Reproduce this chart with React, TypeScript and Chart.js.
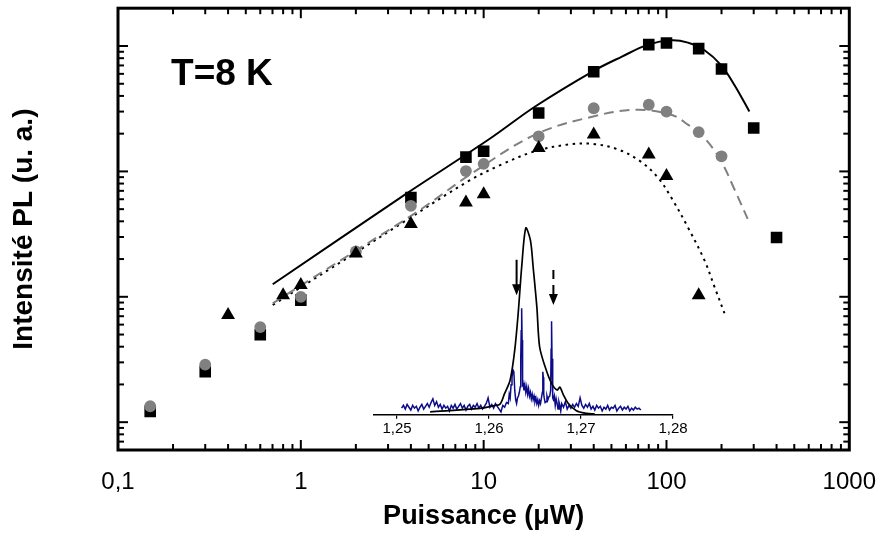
import React, { useEffect, useRef } from 'react';
import { Chart, registerables } from 'chart.js';

Chart.register(...registerables);

const FONT = "Arial, 'Liberation Sans', Helvetica, sans-serif";

// ---------- main chart data (x: Puissance µW, y: Intensité PL, arbitrary units) ----------
const X_DECADES = [0.1, 1, 10, 100, 1000];
const X_LABELS = ['0,1', '1', '10', '100', '1000'];
const Y_DECADES = [0.1, 1, 10, 100, 1000];
const X_MIN = 0.1;
const X_MAX = 1000;
const Y_MIN = 0.611;
const Y_MAX = 2003;

const SQ_X = [0.15, 0.3, 0.6, 1, 4, 8, 10, 20, 40, 80, 100, 150, 200, 300, 400];
const SQ_Y = [1.22, 2.53, 4.98, 9.4, 61.9, 130, 145, 292, 623, 1026, 1058, 953, 655, 222, 29.7];

const CI_X = [0.15, 0.3, 0.6, 1, 2, 4, 8, 10, 20, 40, 80, 100, 150, 200];
const CI_Y = [1.34, 2.88, 5.73, 10, 23.0, 53.2, 100.7, 115, 190.6, 319, 340, 300, 206, 132];

const TR_X = [0.4, 0.8, 1, 2, 4, 8, 10, 20, 40, 80, 100, 150];
const TR_Y = [7.16, 10.3, 12.4, 22.1, 38.1, 56.5, 65.8, 154, 196.7, 136.6, 92, 10.3];

const FIT_SOLID_X = [0.702, 3.745, 10.65, 19.13, 39.77, 56.7, 79.3, 106.2, 131, 161.5, 198.9, 235.3, 284];
const FIT_SOLID_Y = [12.6, 65.9, 179.6, 329.6, 631.8, 819.9, 1026, 1112, 1064, 926, 704.7, 489.4, 300.8];

const FIT_DASH_X = [0.702, 2.006, 4.42, 8.44, 19.13, 39.77, 68.2, 106.2, 131, 161.5, 198.9, 235.3, 278];
const FIT_DASH_Y = [8.87, 23.4, 48.6, 94.5, 196.7, 274.6, 310.2, 283.2, 236, 184.8, 120.9, 72.1, 41.8];

const FIT_DOT_X = [0.702, 2.006, 3.745, 8.28, 12.58, 19.13, 29.05, 39.77, 54.4, 71.7, 89.9, 106.2, 131, 161.5, 183.1, 207.6];
const FIT_DOT_Y = [8.6, 22.6, 40.5, 83.9, 113.8, 145, 163.9, 165.7, 149.6, 120.9, 89.2, 61.9, 35.8, 19.5, 12, 7.39];

const LABEL_TEXT = 'T=8 K';
const LABEL_X = 0.195;
const LABEL_Y = 490;

// ---------- inset spectrum data (x: energy eV, y: normalised intensity) ----------
const INSET_TICKS = [1.25, 1.26, 1.27, 1.28];
const INSET_X_MIN = 1.2475;
const INSET_X_MAX = 1.28;
const INSET_Y_MIN = 0;
const INSET_Y_MAX = 1.05;

const MACRO_E = [1.2536, 1.259, 1.2605, 1.2612, 1.2617, 1.2623, 1.2628, 1.2632, 1.26355, 1.264, 1.2645, 1.2648, 1.2652, 1.2655, 1.2661, 1.2668, 1.2674, 1.2677, 1.2681, 1.2686, 1.2695, 1.2706, 1.2715];
const MACRO_I = [0.015, 0.034, 0.048, 0.057, 0.114, 0.186, 0.347, 0.56, 0.79, 1.0, 0.935, 0.79, 0.578, 0.364, 0.257, 0.168, 0.132, 0.147, 0.105, 0.061, 0.021, 0.007, 0.003];

const MICRO_E = [
  1.2505, 1.2507, 1.2509, 1.2511, 1.2513, 1.2515, 1.2517, 1.2519, 1.2521, 1.2523, 1.2525, 1.2527, 1.2529, 1.2531, 1.2533,
  1.2535, 1.2537, 1.2539, 1.2541, 1.2543, 1.2545, 1.2547, 1.2549, 1.2551, 1.2553, 1.2555, 1.2557, 1.2559, 1.2561, 1.2563,
  1.2565, 1.2567, 1.2569, 1.2571, 1.2573, 1.2575, 1.2577, 1.2579, 1.2581, 1.2583, 1.2585, 1.2587, 1.2589, 1.2591, 1.2593,
  1.2595, 1.2597, 1.2599, 1.2601, 1.2603, 1.2605, 1.2607, 1.2609, 1.2611, 1.2613, 1.2615, 1.2617, 1.2619, 1.2621, 1.2622,
  1.2623, 1.2624, 1.2625, 1.2626, 1.2627, 1.2628, 1.2629, 1.263, 1.2631, 1.2632, 1.2633, 1.2634, 1.26345, 1.2635, 1.26355,
  1.2636, 1.26365, 1.2637, 1.2638, 1.2639, 1.264, 1.2641, 1.2642, 1.2643, 1.2644, 1.2645, 1.2646, 1.2647, 1.2648, 1.2649,
  1.265, 1.2651, 1.2652, 1.2653, 1.2654, 1.2655, 1.2656, 1.2657, 1.2658, 1.26585, 1.2659, 1.26595, 1.266, 1.2661, 1.2662,
  1.2663, 1.2664, 1.2665, 1.2666, 1.2667, 1.26675, 1.2668, 1.26685, 1.2669, 1.26695, 1.267, 1.2671, 1.2672, 1.2673, 1.2674,
  1.2675, 1.2676, 1.2677, 1.2678, 1.2679, 1.2681, 1.2683, 1.2685, 1.2687, 1.2689, 1.2691, 1.2693, 1.2695, 1.2697, 1.2699,
  1.2701, 1.2703, 1.2705, 1.2707, 1.2709, 1.2711, 1.2713, 1.2715, 1.2717, 1.2719, 1.2721, 1.2723, 1.2725, 1.2727, 1.2729,
  1.2731, 1.2733, 1.2735, 1.2737, 1.2739, 1.2741, 1.2743, 1.2745, 1.2747, 1.2749, 1.2751, 1.2753, 1.2755, 1.2757, 1.2759,
  1.2761, 1.2763, 1.2765,
];
const MICRO_I = [
  0.035, 0.05, 0.03, 0.055, 0.04, 0.025, 0.05, 0.035, 0.045, 0.02, 0.04, 0.055, 0.03, 0.045, 0.06,
  0.04, 0.065, 0.085, 0.05, 0.07, 0.04, 0.055, 0.03, 0.05, 0.035, 0.045, 0.02, 0.05, 0.035, 0.055,
  0.03, 0.045, 0.06, 0.035, 0.05, 0.025, 0.045, 0.055, 0.03, 0.05, 0.04, 0.06, 0.035, 0.05, 0.03,
  0.045, 0.06, 0.09, 0.04, 0.055, 0.035, 0.06, 0.045, 0.03, 0.015, 0.05, 0.04, 0.065, 0.06, 0.11,
  0.09, 0.16, 0.2, 0.24, 0.23, 0.13, 0.08, 0.06, 0.09, 0.1, 0.12, 0.15, 0.3, 0.45, 0.57,
  0.4, 0.15, 0.17, 0.13, 0.16, 0.12, 0.15, 0.11, 0.14, 0.1, 0.12, 0.085, 0.11, 0.08, 0.1,
  0.07, 0.09, 0.06, 0.08, 0.05, 0.075, 0.06, 0.09, 0.12, 0.23, 0.2, 0.11, 0.09, 0.065, 0.07,
  0.1, 0.08, 0.095, 0.1, 0.13, 0.35, 0.5, 0.3, 0.12, 0.09, 0.08, 0.1, 0.05, 0.085, 0.06,
  0.03, 0.07, 0.05, 0.02, 0.06, 0.04, 0.07, 0.03, 0.05, 0.035, 0.055, 0.04, 0.06, 0.045, 0.09,
  0.05, 0.035, 0.055, 0.04, 0.06, 0.03, 0.045, 0.025, 0.05, 0.035, 0.045, 0.02, 0.04, 0.03, 0.05,
  0.025, 0.04, 0.035, 0.05, 0.02, 0.035, 0.045, 0.025, 0.04, 0.03, 0.045, 0.02, 0.035, 0.025, 0.04,
  0.03, 0.035, 0.025,
];

// arrows in the inset: energy, top and tip intensity, dashed or not
const ARROW_E = [1.263, 1.267];
const ARROW_TOP = [0.83, 0.775];
const ARROW_TIP = [0.64, 0.588];
const ARROW_DASHED = [false, true];

const zip = (xs: number[], ys: number[]) => xs.map((x, i) => ({ x, y: ys[i] }));

function minorTicks(decades: number[], min: number, max: number) {
  const out: number[] = [];
  decades.forEach((d) => {
    for (let k = 2; k <= 9; k++) {
      const v = d * k;
      if (v > min * 1.001 && v < max * 0.999) out.push(v);
    }
  });
  return out;
}

const mainPlugin = {
  id: 'mainFrame',
  afterDatasetsDraw(chart: any) {
    const { ctx, chartArea: a, scales } = chart;
    const xs = scales.x;
    const ys = scales.y;
    ctx.save();
    ctx.strokeStyle = '#000';
    ctx.lineWidth = 2;
    ctx.lineCap = 'butt';
    const seg = (x1: number, y1: number, x2: number, y2: number) => {
      ctx.beginPath();
      ctx.moveTo(x1, y1);
      ctx.lineTo(x2, y2);
      ctx.stroke();
    };
    const xMaj = X_DECADES.filter((v) => v > X_MIN * 1.001 && v < X_MAX * 0.999);
    const xMin = minorTicks(X_DECADES, X_MIN, X_MAX);
    xMaj.forEach((v) => {
      const p = xs.getPixelForValue(v);
      seg(p, a.bottom, p, a.bottom - 10);
      seg(p, a.top, p, a.top + 10);
    });
    xMin.forEach((v) => {
      const p = xs.getPixelForValue(v);
      seg(p, a.bottom, p, a.bottom - 6);
      seg(p, a.top, p, a.top + 6);
    });
    const yMaj = Y_DECADES.filter((v) => v > Y_MIN && v < Y_MAX);
    const yMin = minorTicks(Y_DECADES, Y_MIN, Y_MAX);
    yMaj.forEach((v) => {
      const p = ys.getPixelForValue(v);
      seg(a.left, p, a.left + 10, p);
      seg(a.right, p, a.right - 10, p);
    });
    yMin.forEach((v) => {
      const p = ys.getPixelForValue(v);
      if (Math.abs(p - a.top) < 3 || Math.abs(p - a.bottom) < 3) return;
      seg(a.left, p, a.left + 6, p);
      seg(a.right, p, a.right - 6, p);
    });
    ctx.lineWidth = 3;
    ctx.strokeRect(a.left, a.top, a.right - a.left, a.bottom - a.top);

    ctx.fillStyle = '#000';
    ctx.font = `bold 37px ${FONT}`;
    ctx.textAlign = 'left';
    ctx.textBaseline = 'alphabetic';
    ctx.fillText(LABEL_TEXT, xs.getPixelForValue(LABEL_X), ys.getPixelForValue(LABEL_Y));
    ctx.restore();
  },
};

const arrowPlugin = {
  id: 'insetArrows',
  afterDatasetsDraw(chart: any) {
    const { ctx, scales } = chart;
    ctx.save();
    ctx.strokeStyle = '#000';
    ctx.fillStyle = '#000';
    ctx.lineWidth = 2;
    ARROW_E.forEach((e, i) => {
      const x = scales.x.getPixelForValue(e);
      const yTop = scales.y.getPixelForValue(ARROW_TOP[i]);
      const yTip = scales.y.getPixelForValue(ARROW_TIP[i]);
      const headH = 11;
      const headW = 4.5;
      ctx.setLineDash(ARROW_DASHED[i] ? [9, 6] : []);
      ctx.beginPath();
      ctx.moveTo(x, yTop);
      ctx.lineTo(x, yTip - headH + 1);
      ctx.stroke();
      ctx.setLineDash([]);
      ctx.beginPath();
      ctx.moveTo(x - headW, yTip - headH);
      ctx.lineTo(x + headW, yTip - headH);
      ctx.lineTo(x, yTip);
      ctx.closePath();
      ctx.fill();
    });
    ctx.restore();
  },
};

export default function App() {
  const mainRef = useRef<HTMLCanvasElement | null>(null);
  const insetRef = useRef<HTMLCanvasElement | null>(null);

  useEffect(() => {
    if (!mainRef.current || !insetRef.current) return;

    const lineDs = (xs: number[], ys: number[], opts: any) => ({
      data: zip(xs, ys),
      showLine: true,
      pointRadius: 0,
      borderWidth: 2,
      tension: 0.35,
      fill: false,
      ...opts,
    });

    const main = new Chart(mainRef.current, {
      type: 'scatter',
      data: {
        datasets: [
          { label: 'triangles', data: zip(TR_X, TR_Y), pointStyle: 'triangle', pointRadius: 8, backgroundColor: '#000', borderColor: '#000', borderWidth: 0, order: 1 },
          { label: 'circles', data: zip(CI_X, CI_Y), pointStyle: 'circle', pointRadius: 5.9, backgroundColor: '#808080', borderColor: '#808080', borderWidth: 0, order: 2 },
          { label: 'squares', data: zip(SQ_X, SQ_Y), pointStyle: 'rect', pointRadius: 8.2, backgroundColor: '#000', borderColor: '#000', borderWidth: 0, order: 3 },
          lineDs(FIT_SOLID_X, FIT_SOLID_Y, { label: 'fit1', borderColor: '#000', order: 4 }),
          lineDs(FIT_DASH_X, FIT_DASH_Y, { label: 'fit2', borderColor: '#808080', borderDash: [10, 6], order: 5 }),
          lineDs(FIT_DOT_X, FIT_DOT_Y, { label: 'fit3', borderColor: '#000', borderDash: [2.5, 4.5], order: 6 }),
        ] as any,
      },
      options: {
        animation: false,
        responsive: false,
        events: [],
        layout: { padding: { left: 0, right: 34, top: 6, bottom: 0 } },
        plugins: { legend: { display: false }, tooltip: { enabled: false } },
        scales: {
          x: {
            type: 'logarithmic',
            position: 'bottom',
            min: X_MIN,
            max: X_MAX,
            afterBuildTicks: (s: any) => {
              s.ticks = X_DECADES.map((v) => ({ value: v }));
            },
            afterFit: (s: any) => {
              s.height = 87;
            },
            grid: { display: false },
            border: { display: false },
            ticks: {
              autoSkip: false,
              maxRotation: 0,
              padding: 10,
              color: '#000',
              font: { family: FONT, size: 24 },
              callback: (_v: any, i: number) => X_LABELS[i],
            },
            title: {
              display: true,
              text: 'Puissance (μW)',
              color: '#000',
              font: { family: FONT, size: 27, weight: 'bold' },
              padding: { top: 0, bottom: 4 },
            },
          },
          y: {
            type: 'logarithmic',
            min: Y_MIN,
            max: Y_MAX,
            afterFit: (s: any) => {
              s.width = 118;
            },
            grid: { display: false },
            border: { display: false },
            ticks: { display: false },
            title: {
              display: true,
              text: 'Intensité PL (u. a.)',
              color: '#000',
              font: { family: FONT, size: 28, weight: 'bold' },
              padding: { top: 7, bottom: 0 },
            },
          },
        },
      } as any,
      plugins: [mainPlugin],
    });

    const inset = new Chart(insetRef.current, {
      type: 'scatter',
      data: {
        datasets: [
          { label: 'macro', data: zip(MACRO_E, MACRO_I), showLine: true, pointRadius: 0, borderColor: '#000', borderWidth: 1.7, tension: 0.3, order: 1 },
          { label: 'micro', data: zip(MICRO_E, MICRO_I), showLine: true, pointRadius: 0, borderColor: '#0c0c8a', borderWidth: 1.5, tension: 0, order: 2 },
        ] as any,
      },
      options: {
        animation: false,
        responsive: false,
        events: [],
        layout: { padding: { left: 374, right: 213, top: 218.7, bottom: 82.3 } },
        plugins: { legend: { display: false }, tooltip: { enabled: false } },
        scales: {
          x: {
            type: 'linear',
            min: INSET_X_MIN,
            max: INSET_X_MAX,
            afterBuildTicks: (s: any) => {
              s.ticks = INSET_TICKS.map((v) => ({ value: v }));
            },
            afterFit: (s: any) => {
              s.height = 40;
            },
            grid: { display: true, drawOnChartArea: false, drawTicks: true, tickLength: 4, color: '#000', lineWidth: 1.2 },
            border: { display: true, color: '#000', width: 1.4 },
            ticks: {
              autoSkip: false,
              maxRotation: 0,
              padding: 1,
              color: '#000',
              font: { family: FONT, size: 15 },
              callback: (v: any) => Number(v).toFixed(2).replace('.', ','),
            },
          },
          y: { display: false, min: INSET_Y_MIN, max: INSET_Y_MAX },
        },
      } as any,
      plugins: [arrowPlugin],
    });

    return () => {
      main.destroy();
      inset.destroy();
    };
  }, []);

  return (
    <div style={{ position: 'fixed', left: 0, top: 0, width: 886, height: 537, background: '#fff' }}>
      <canvas ref={mainRef} width={886} height={537} style={{ position: 'absolute', left: 0, top: 0 }} />
      <canvas ref={insetRef} width={886} height={537} style={{ position: 'absolute', left: 0, top: 0, pointerEvents: 'none' }} />
    </div>
  );
}
